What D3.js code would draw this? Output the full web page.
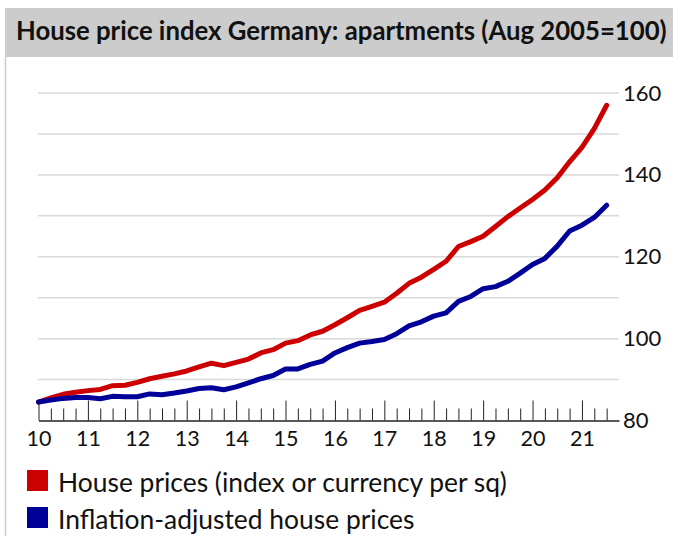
<!DOCTYPE html>
<html>
<head>
<meta charset="utf-8">
<script src="https://cdn.jsdelivr.net/npm/d3@7"></script>
<style>
  html, body { margin: 0; padding: 0; background: #fff; }
  svg { display: block; font-family: Lato, "Open Sans", sans-serif; }
</style>
</head>
<body>
<svg id="chart" width="673" height="536"></svg>
<script>
// ---- data (quarterly, starting 2010 Q1) ----
const startYear = 2010;
const housePrices = [
  84.5, 85.5, 86.4, 86.9,
  87.3, 87.6, 88.5, 88.6,
  89.3, 90.2, 90.8, 91.4,
  92.1, 93.1, 94.0, 93.4,
  94.2, 95.0, 96.5, 97.3,
  98.9, 99.5, 100.9, 101.8,
  103.4, 105.1, 106.9, 107.9,
  108.9, 111.1, 113.5, 115.0,
  116.9, 118.9, 122.5, 123.7,
  125.0, 127.4, 129.8, 131.9,
  134.0, 136.3, 139.3, 143.2,
  146.7, 151.3, 157.0
];
const realHousePrices = [
  84.5, 85.0, 85.4, 85.6,
  85.6, 85.3, 85.9, 85.8,
  85.8, 86.5, 86.3, 86.7,
  87.2, 87.8, 88.0, 87.5,
  88.2, 89.2, 90.2, 91.0,
  92.6, 92.6, 93.7, 94.5,
  96.5, 97.8, 98.9, 99.3,
  99.8, 101.2, 103.1, 104.1,
  105.5, 106.3, 109.1, 110.3,
  112.2, 112.7, 114.0, 116.0,
  118.1, 119.6, 122.6, 126.3,
  127.7, 129.6, 132.6
];
const yearTicks = [2010, 2011, 2012, 2013, 2014, 2015, 2016, 2017, 2018, 2019, 2020, 2021];
const yTickLabels = [80, 100, 120, 140, 160];
const gridValues = [90, 100, 110, 120, 130, 140, 150, 160];
const seriesNames = ["House prices (index or currency per sq)", "Inflation-adjusted house prices"];
const seriesColors = ["#cc0000", "#000099"];
const title = "House price index Germany: apartments (Aug 2005=100)";

// ---- drawing ----
const svg = d3.select("#chart");

// title band
svg.append("rect").attr("x", 5).attr("y", 8).attr("width", 668).attr("height", 49).attr("fill", "#cccccc");
const t = svg.append("text").attr("x", 16).attr("y", 40)
  .attr("font-weight", "bold").attr("font-size", 23).attr("fill", "#111").text(title);
const tw = t.node().getComputedTextLength();
t.attr("font-size", 23 * 651 / tw);

// left border
svg.append("line").attr("x1", 5.5).attr("x2", 5.5).attr("y1", 57).attr("y2", 536)
  .attr("stroke", "#cccccc").attr("stroke-width", 1.5);

const x = d3.scaleLinear().domain([2010, 2021.75]).range([38.5, 619]);
const y = d3.scaleLinear().domain([80, 160]).range([420.5, 93]);

// gridlines
svg.append("g").selectAll("line").data(gridValues).join("line")
  .attr("x1", 38).attr("x2", 619)
  .attr("y1", d => y(d)).attr("y2", d => y(d))
  .attr("stroke", "#d9d9d9").attr("stroke-width", 1.5);

// quarterly minor ticks
const quarterTicks = housePrices.map((_, i) => startYear + i / 4).filter(v => v % 1 !== 0);
const minorAxis = d3.axisBottom(x).tickValues(quarterTicks).tickSize(-12).tickFormat("");
const gMinor = svg.append("g").attr("transform", "translate(0,420.5)").call(minorAxis);
gMinor.select(".domain").remove();
gMinor.selectAll(".tick line").attr("stroke", "#222");

const majorAxis = d3.axisBottom(x).tickValues(yearTicks).tickSize(-20).tickPadding(10)
  .tickFormat(d => String(d).slice(2)).tickSizeOuter(0);
const gMajor = svg.append("g").attr("transform", "translate(0,420.5)").call(majorAxis);
gMajor.select(".domain").attr("stroke", "#222").attr("stroke-width", 1.5);
gMajor.selectAll(".tick line").attr("stroke", "#222");
gMajor.selectAll(".tick text").attr("font-size", 21.5).attr("fill", "#111")
  .attr("font-family", "Lato, sans-serif").attr("dy", "0.71em");

// right axis labels
const yAxis = d3.axisRight(y).tickValues(yTickLabels).tickSize(0).tickPadding(4);
const gy = svg.append("g").attr("transform", "translate(619,0)").call(yAxis);
gy.select(".domain").remove();
gy.selectAll(".tick text").attr("font-size", 22).attr("fill", "#111")
  .attr("font-family", "Lato, sans-serif");

// lines
const line = d3.line().x((d, i) => x(startYear + i / 4)).y(d => y(d));
[housePrices, realHousePrices].forEach((s, k) => {
  svg.append("path").datum(s).attr("d", line)
    .attr("fill", "none").attr("stroke", seriesColors[k])
    .attr("stroke-width", 5).attr("stroke-linejoin", "round").attr("stroke-linecap", "round");
});

// legend
const leg = svg.append("g").selectAll("g").data(seriesNames).join("g")
  .attr("transform", (d, i) => `translate(27,${470 + i * 37})`);
leg.append("rect").attr("width", 21).attr("height", 21).attr("fill", (d, i) => seriesColors[i]);
const lt = leg.append("text").attr("x", 31).attr("y", 22).attr("font-size", 23).attr("fill", "#111").text(d => d);
const lw = lt.nodes()[0].getComputedTextLength();
lt.attr("font-size", 23 * 449 / lw);
</script>
</body>
</html>
